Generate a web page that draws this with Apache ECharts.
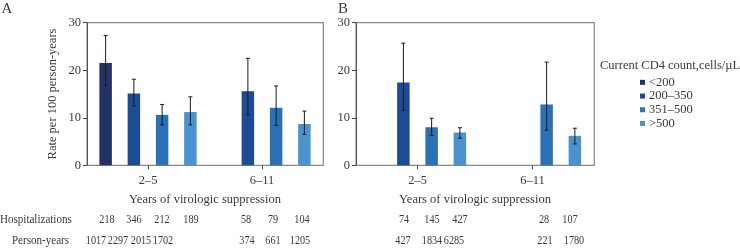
<!DOCTYPE html>
<html><head><meta charset="utf-8">
<script src="https://cdn.jsdelivr.net/npm/echarts@6/dist/echarts.min.js"></script>
<style>html,body{margin:0;padding:0;background:#fff}#c{width:740px;height:249px}</style>
</head><body><div id="c"></div>
<script>
// ---- data ----
const categories = ['2–5', '6–11'];
const groupNames = ['<200', '200–350', '351–500', '>500'];

// Panel A: rate per 100 person-years, lower CI, upper CI (by category)
const rateA_lt200   = [21.5, null];
const rateA_200_350 = [15.1, 15.6];
const rateA_351_500 = [10.6, 12.1];
const rateA_gt500   = [11.2, 8.7];
const lowA_lt200    = [16.8, null];
const lowA_200_350  = [12.5, 10.6];
const lowA_351_500  = [8.5, 8.4];
const lowA_gt500    = [8.5, 6.5];
const upA_lt200     = [27.3, null];
const upA_200_350   = [18.1, 22.5];
const upA_351_500   = [12.8, 16.7];
const upA_gt500     = [14.4, 11.4];

// Panel B
const rateB_lt200   = [null, null];
const rateB_200_350 = [17.4, null];
const rateB_351_500 = [8.0, 12.8];
const rateB_gt500   = [6.9, 6.2];
const lowB_lt200    = [null, null];
const lowB_200_350  = [11.6, null];
const lowB_351_500  = [6.3, 7.4];
const lowB_gt500    = [5.7, 4.5];
const upB_lt200     = [null, null];
const upB_200_350   = [25.7, null];
const upB_351_500   = [9.9, 21.7];
const upB_gt500     = [7.9, 7.8];

const yTicks = [0, 10, 20, 30];

// table rows under panels
const hospA = ['218', '346', '212', '189', '58', '79', '104'];
const pyA   = ['1017', '2297', '2015', '1702', '374', '661', '1205'];
const hospB = ['74', '145', '427', '28', '107'];
const pyB   = ['427', '1834', '6285', '221', '1780'];

// ---- layout / style (not data) ----
const colors = ['#243166', '#1d4b95', '#2b71b6', '#4a93cf'];
const FONT = 'Liberation Serif';
const FS = 12.5;
const TFS = 12;     // table font
const NSX = 0.85;   // horizontal squeeze of table numbers
const LSX = 0.92;   // horizontal squeeze of table labels
const TXT = '#3a3a3a';
const barW = 12.5, barGapPct = 1.26;
const slotStep = barW * (1 + barGapPct);
const hospA_x = [107, 134, 162, 191, 246, 273, 302];
const pyA_x   = [96, 118, 141, 163, 247, 273, 300];
const hospB_x = [404, 432, 460, 544, 570];
const pyB_x   = [403, 432, 454, 545, 574];
const rowY = [219.5, 240.5];

const rateA = [rateA_lt200, rateA_200_350, rateA_351_500, rateA_gt500];
const lowA = [lowA_lt200, lowA_200_350, lowA_351_500, lowA_gt500];
const upA = [upA_lt200, upA_200_350, upA_351_500, upA_gt500];
const rateB = [rateB_lt200, rateB_200_350, rateB_351_500, rateB_gt500];
const lowB = [lowB_lt200, lowB_200_350, lowB_351_500, lowB_gt500];
const upB = [upB_lt200, upB_200_350, upB_351_500, upB_gt500];

function errData(low, up) {
  const out = [];
  for (let s = 0; s < 4; s++) for (let c = 0; c < categories.length; c++) {
    if (low[s][c] != null) out.push([c, s, low[s][c], up[s][c]]);
  }
  return out;
}
function renderErr(params, api) {
  const c = api.value(0), s = api.value(1);
  const lo = api.coord([c, api.value(2)]);
  const hi = api.coord([c, api.value(3)]);
  const x = lo[0] + (s - 1.5) * slotStep;
  const cap = 2;
  const st = { stroke: '#1a1a1a', lineWidth: 1 };
  return { type: 'group', children: [
    { type: 'line', shape: { x1: x, y1: lo[1], x2: x, y2: hi[1] }, style: st },
    { type: 'line', shape: { x1: x - cap, y1: hi[1], x2: x + cap, y2: hi[1] }, style: st },
    { type: 'line', shape: { x1: x - cap, y1: lo[1], x2: x + cap, y2: lo[1] }, style: st }
  ]};
}

const grids = [
  { left: 91, top: 22.7, width: 228, height: 142.6 },
  { left: 360, top: 22.7, width: 230, height: 142.6 }
];
function xAx(i) {
  return {
    type: 'category', gridIndex: i, data: categories,
    axisLine: { show: false },
    axisTick: { show: true, alignWithLabel: true, length: 4, lineStyle: { color: '#444' } },
    axisLabel: { color: TXT, fontFamily: FONT, fontSize: FS, margin: 9 },
    name: 'Years of virologic suppression', nameLocation: 'middle', nameGap: 28,
    nameTextStyle: { color: TXT, fontFamily: FONT, fontSize: FS }
  };
}
function yAx(i) {
  return {
    type: 'value', gridIndex: i, min: 0, max: 30, interval: 10, offset: 4,
    axisLine: { show: true, lineStyle: { color: '#555' } },
    axisTick: { show: true, length: 4, lineStyle: { color: '#444' } },
    splitLine: { show: false },
    axisLabel: { color: TXT, fontFamily: FONT, fontSize: FS, margin: 6,
      formatter: v => yTicks.includes(v) ? String(v) : '' },
    name: i === 0 ? 'Rate per 100 person-years' : '',
    nameLocation: 'middle', nameGap: 28,
    nameTextStyle: { color: TXT, fontFamily: FONT, fontSize: FS }
  };
}

const series = [];
[rateA, rateB].forEach((rates, g) => {
  rates.forEach((arr, s) => {
    series.push({
      type: 'bar', name: groupNames[s], xAxisIndex: g, yAxisIndex: g,
      data: arr.map(v => v == null ? '-' : v),
      barWidth: barW, barGap: (barGapPct * 100) + '%',
      itemStyle: { color: colors[s] }, silent: true
    });
  });
});
series.push({ type: 'custom', xAxisIndex: 0, yAxisIndex: 0, data: errData(lowA, upA), renderItem: renderErr, z: 5 });
series.push({ type: 'custom', xAxisIndex: 1, yAxisIndex: 1, data: errData(lowB, upB), renderItem: renderErr, z: 5 });

const graphics = [];
function txt(x, y, t, opts, size, sx) {
  graphics.push({ type: 'text', x: x, y: y, scaleX: sx || 1, silent: true,
    style: Object.assign({ text: t, fill: TXT, font: (size || FS) + 'px "' + FONT + '"', textAlign: 'center', textVerticalAlign: 'middle' }, opts || {}) });
}
// frames
[[87, 236.3], [356, 238.3]].forEach(([x, w]) => graphics.push({ type: 'rect', silent: true, z: -1,
  shape: { x: x, y: 22.7, width: w, height: 142.6 }, style: { fill: null, stroke: '#888', lineWidth: 1.2 } }));
txt(7, 9, 'A', {}, 15);
txt(343, 9, 'B', {}, 15);
txt(600, 65.5, 'Current CD4 count,cells/µL', { textAlign: 'left' });
txt(0, rowY[0], 'Hospitalizations', { textAlign: 'left' }, TFS, LSX);
txt(69, rowY[1], 'Person-years', { textAlign: 'right' }, TFS, LSX);
hospA.forEach((t, i) => txt(hospA_x[i], rowY[0], t, {}, TFS, NSX));
pyA.forEach((t, i) => txt(pyA_x[i], rowY[1], t, {}, TFS, NSX));
hospB.forEach((t, i) => txt(hospB_x[i], rowY[0], t, {}, TFS, NSX));
pyB.forEach((t, i) => txt(pyB_x[i], rowY[1], t, {}, TFS, NSX));

const chart = echarts.init(document.getElementById('c'), null, { renderer: 'canvas' });
chart.setOption({
  animation: false,
  backgroundColor: '#fff',
  textStyle: { fontFamily: FONT },
  grid: grids,
  xAxis: [xAx(0), xAx(1)],
  yAxis: [yAx(0), yAx(1)],
  legend: {
    data: groupNames, orient: 'vertical', left: 640, top: 75.5, padding: 0,
    itemWidth: 5, itemHeight: 5, itemGap: 0, icon: 'rect',
    textStyle: { color: TXT, fontFamily: FONT, fontSize: FS, lineHeight: 13.7, padding: [0, 0, 0, -1] },
    selectedMode: false
  },
  series: series,
  graphic: graphics
});
</script></body></html>
